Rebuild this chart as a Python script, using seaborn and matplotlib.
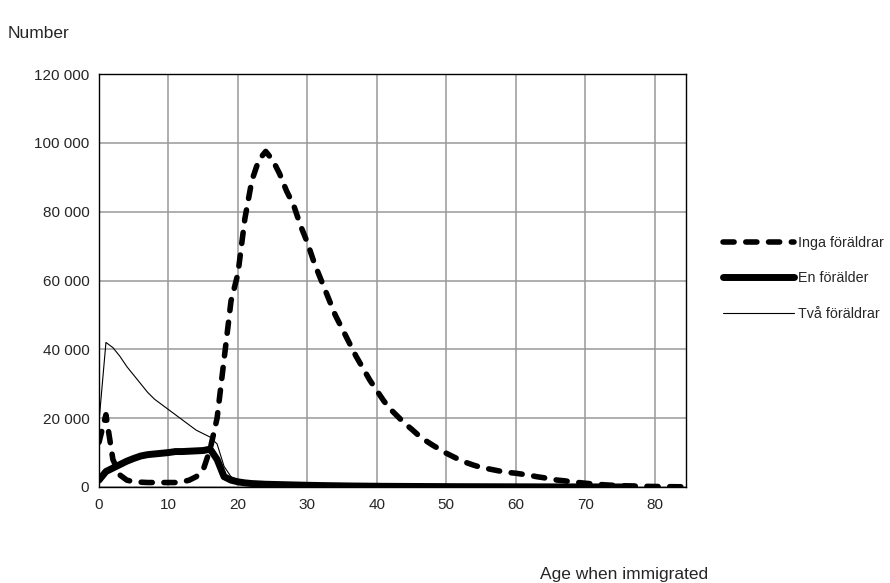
import matplotlib
matplotlib.use("Agg")
import matplotlib.pyplot as plt
import seaborn as sns
import pandas as pd
from matplotlib.ticker import FuncFormatter, MultipleLocator
from matplotlib.lines import Line2D

# ---- data ----
ages_inga = list(range(0, 85))
inga = [13000, 21000, 8000, 3500, 2000, 1500, 1400, 1300, 1300, 1300,       # 0-9
        1300, 1300, 1500, 2000, 3000, 5000, 11000, 20000, 37000, 54000,      # 10-19
        62000, 78000, 89000, 95000, 97500, 95000, 91000, 86000, 82000, 76000, # 20-29
        71000, 65000, 60000, 55000, 50000, 46000, 42000, 38000, 34500, 31000, # 30-39
        28000, 25000, 22500, 20500, 18500, 16800, 15000, 13500, 12200, 11000, # 40-49
        9800, 8800, 7800, 7000, 6300, 5700, 5300, 4900, 4500, 4200,          # 50-59
        4000, 3700, 3400, 3000, 2700, 2300, 2000, 1800, 1500, 1300,          # 60-69
        1100, 900, 750, 600, 500, 400, 330, 270, 220, 180,                   # 70-79
        150, 120, 100, 80, 60]                                               # 80-84

ages_parents = list(range(0, 78))
en = [2000, 4500, 5500, 6500, 7500, 8300, 9000, 9400, 9600, 9800,           # 0-9
      10000, 10300, 10300, 10400, 10500, 10600, 11000, 8000, 3000, 2000,     # 10-19
      1500, 1200, 1000, 900, 800, 750, 700, 650, 600, 550,                   # 20-29
      500, 460, 420, 390, 360, 330, 300, 280, 260, 240,                      # 30-39
      220, 200, 190, 180, 170, 160, 150, 140, 130, 120,                      # 40-49
      110, 100, 95, 90, 85, 80, 75, 70, 65, 60,                              # 50-59
      55, 50, 45, 40, 38, 35, 32, 30, 28, 25,                                # 60-69
      22, 20, 18, 16, 14, 12, 10, 8]                                         # 70-77
tva = [19000, 42000, 40500, 38000, 35000, 32500, 30000, 27500, 25500, 24000, # 0-9
       22500, 21000, 19500, 18000, 16500, 15500, 14500, 12500, 6000, 3000,   # 10-19
       2000, 1500, 1300, 1100, 1000, 900, 800, 750, 700, 650,                # 20-29
       600, 550, 500, 460, 420, 390, 360, 330, 300, 280,                     # 30-39
       260, 240, 220, 200, 190, 180, 170, 160, 150, 140,                     # 40-49
       130, 120, 110, 100, 95, 90, 85, 80, 75, 70,                           # 50-59
       65, 60, 55, 50, 45, 40, 38, 35, 32, 30,                               # 60-69
       28, 25, 22, 20, 18, 16, 14, 12]                                       # 70-77

series_names = ["Inga föräldrar", "En förälder", "Två föräldrar"]
x_title = "Age when immigrated"
y_title = "Number"

sns.set_theme(style="white")
plt.rcParams["font.family"] = ["Liberation Sans", "DejaVu Sans"]

fig = plt.figure(figsize=(8.9, 5.83), dpi=100)
ax = fig.add_axes([99/890, 1-487/583, (686-99)/890, (487-74)/583])

df_inga = pd.DataFrame({"age": ages_inga, "n": inga})
df_en = pd.DataFrame({"age": ages_parents, "n": en})
df_tva = pd.DataFrame({"age": ages_parents, "n": tva})

LW_DASH, LW_EN, LW_TVA = 4.0, 5.0, 0.8
DASHES = (2.0, 2.1)

sns.lineplot(data=df_inga, x="age", y="n", ax=ax, color="black", linewidth=LW_DASH,
             zorder=3)
sns.lineplot(data=df_en, x="age", y="n", ax=ax, color="black", linewidth=LW_EN,
             zorder=4)
sns.lineplot(data=df_tva, x="age", y="n", ax=ax, color="black", linewidth=LW_TVA,
             zorder=5)
l_inga, l_en, l_tva = ax.get_lines()[:3]
l_inga.set_dashes(DASHES)
l_inga.set_dash_capstyle("round")
l_en.set_solid_capstyle("round")
l_en.set_solid_joinstyle("round")

ax.set_xlim(0, 84.5)
ax.set_ylim(0, 120000)
ax.xaxis.set_major_locator(MultipleLocator(10))
ax.yaxis.set_major_locator(MultipleLocator(20000))
ax.yaxis.set_major_formatter(FuncFormatter(lambda v, p: f"{int(v):,}".replace(",", " ")))
ax.grid(True, color="#999999", linewidth=1.1)
ax.set_axisbelow(True)
for s in ax.spines.values():
    s.set_visible(True)
    s.set_color("black")
    s.set_linewidth(1.0)
ax.tick_params(axis="both", which="major", direction="out", length=5, width=1,
               color="black", labelsize=11, pad=2)
ax.tick_params(axis="x", pad=3)
ax.set_xlabel("")
ax.set_ylabel("")

fig.text(8/890, 1-33/583, y_title, fontsize=12.5, ha="left", va="center")
fig.text(540/890, 1-574/583, x_title, fontsize=12.5, ha="left", va="center")

handles = [
    Line2D([], [], color="black", linewidth=LW_DASH, dashes=DASHES, dash_capstyle="round"),
    Line2D([], [], color="black", linewidth=LW_EN, solid_capstyle="round"),
    Line2D([], [], color="black", linewidth=LW_TVA),
]
leg = fig.legend(handles, series_names, loc="upper left",
                 bbox_to_anchor=(717/890, 1-230/583), frameon=False,
                 handlelength=5.0, handletextpad=0.25, labelspacing=1.5,
                 prop={"size": 10.3}, borderaxespad=0)

fig.savefig("out.png", dpi=100)
